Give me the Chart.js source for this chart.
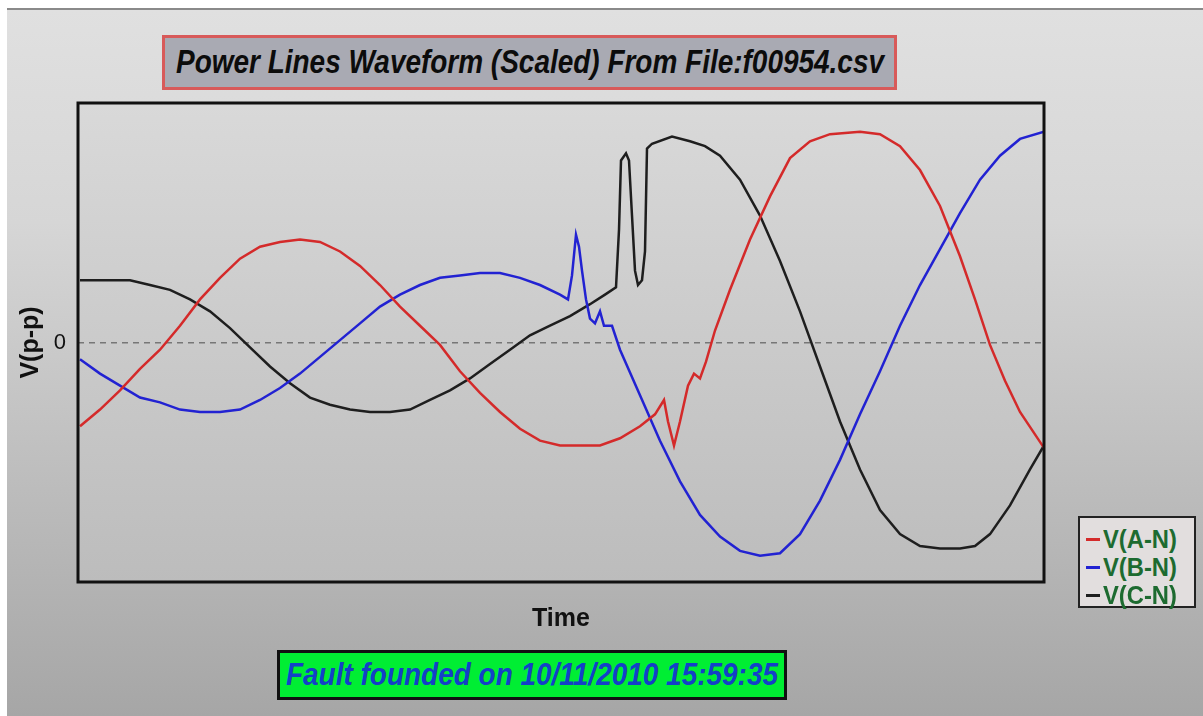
<!DOCTYPE html>
<html>
<head>
<meta charset="utf-8">
<script src="https://cdn.jsdelivr.net/npm/chart.js@4"></script>
<style>
  body { margin: 0; background: #fff; width: 1203px; height: 716px; overflow: hidden; position: relative; }
  #frame { position: absolute; left: 7px; top: 8px; width: 1196px; height: 708px;
           background: linear-gradient(#e0e0e0, #d6d6d6 30%, #a6a6a6); border-top: 2px solid #8a8a8a; box-sizing: border-box; }
  #myChart { position: absolute; left: 0; top: 0; }
  .box { position: absolute; box-sizing: border-box; font-family: "Liberation Sans", Arial, sans-serif;
         font-style: italic; font-weight: bold; white-space: nowrap; overflow: hidden; }
  .fit { position: absolute; left: 50%; top: 0; transform-origin: center center; }
  #title { left: 162px; top: 35px; width: 735px; height: 55px; border: 3px solid #d85a5a; background: #a9aab3;
           color: #0c0c0c; font-size: 33px; line-height: 48px; }
  #fault { left: 277px; top: 650px; width: 510px; height: 50px; border: 3px solid #111; background: #00ee33;
           color: #1440c8; font-size: 31px; line-height: 43px; }
  #legend { position: absolute; left: 1078px; top: 516px; width: 118px; height: 92px; border: 2px solid #222;
            background: #e2dede; box-sizing: border-box; font-family: "Liberation Sans", Arial, sans-serif;
            font-weight: bold; font-size: 25px; color: #1d6b30; padding-top: 5px; white-space: nowrap; }
  #legend div { height: 28px; line-height: 28px; padding-left: 6px; }
  #legend span.mk { display: inline-block; width: 14px; height: 3px; vertical-align: middle; margin-right: 3px; }
  #legend span.lbl { display: inline-block; transform: scaleX(0.95); transform-origin: left center; vertical-align: middle; }
</style>
</head>
<body>
<div id="frame"></div>
<canvas id="myChart" width="1203" height="716"></canvas>
<div id="title" class="box"><span class="fit" data-w="708">Power Lines Waveform (Scaled) From File:f00954.csv</span></div>
<div id="fault" class="box"><span class="fit" data-w="492">Fault founded on 10/11/2010 15:59:35</span></div>
<div id="legend"></div>
<script>
// sample index (0..966) and scaled voltage (-100..100)
const seriesNames = ['V(A-N)', 'V(B-N)', 'V(C-N)'];
const seriesColors = ['#d42a2a', '#2222d2', '#1e1e1e'];

const tA = [2, 22, 42, 62, 82, 102, 122, 142, 162, 182, 202, 222, 242, 262, 282, 302, 322, 342, 362, 382, 402, 422, 442, 462, 482, 502, 522, 542, 562, 577, 586, 590, 596, 602, 610, 616, 622, 628, 637, 652, 672, 692, 712, 732, 752, 782, 802, 822, 842, 862, 882, 897, 912, 927, 942, 966];
const vA = [-35, -28, -20, -11, -3, 7, 18, 27, 35, 40, 42, 43, 42, 38, 32, 24, 15, 7, -1, -12, -21, -29, -36, -41, -43, -43, -43, -40, -35, -30, -24, -33, -43, -33, -18, -13, -15, -8, 5, 22, 43, 61, 77, 84, 87, 88, 87, 82, 72, 57, 36, 18, -1, -16, -29, -44];

const tB = [2, 22, 42, 62, 82, 102, 122, 142, 162, 182, 202, 222, 242, 262, 282, 302, 322, 342, 362, 382, 402, 422, 442, 462, 482, 490, 494, 498, 501, 504, 508, 512, 517, 522, 526, 534, 542, 562, 582, 602, 622, 642, 662, 682, 702, 722, 742, 762, 782, 802, 822, 842, 862, 882, 902, 922, 942, 966];
const vB = [-7, -13, -18, -23, -25, -28, -29, -29, -28, -24, -19, -13, -6, 1, 8, 15, 20, 24, 27, 28, 29, 29, 27, 24, 20, 18, 28, 45, 40, 30, 18, 10, 8, 13, 7, 7, -3, -22, -41, -58, -72, -81, -87, -89, -88, -80, -66, -49, -30, -12, 7, 24, 39, 54, 68, 78, 85, 88];

const tC = [2, 22, 52, 72, 92, 112, 132, 152, 172, 192, 212, 232, 252, 272, 292, 312, 332, 352, 372, 392, 412, 432, 452, 472, 492, 512, 527, 538, 541, 543, 548, 551, 554, 557, 560, 564, 567, 569, 574, 594, 612, 627, 642, 662, 682, 702, 722, 742, 762, 782, 802, 822, 842, 862, 882, 897, 912, 932, 952, 966];
const vC = [26, 26, 26, 24, 22, 18, 13, 6, -2, -10, -17, -23, -26, -28, -29, -29, -28, -24, -20, -15, -9, -3, 3, 7, 11, 16, 20, 23, 47, 76, 79, 76, 53, 30, 24, 26, 38, 81, 83, 86, 84, 82, 78, 68, 53, 34, 13, -10, -33, -53, -70, -80, -85, -86, -86, -85, -80, -68, -53, -43];

const yTicks = [-100, 0, 100];

function points(ts, vs) {
    return ts.map((t, i) => ({ x: t, y: vs[i] }));
}

// squeeze the boxed captions to the narrow look of the original
document.querySelectorAll('.fit').forEach(el => {
    const w = el.getBoundingClientRect().width;
    el.style.transform = 'translateX(-50%) scaleX(' + (Number(el.dataset.w) / w) + ')';
});

const legendEl = document.getElementById('legend');
seriesNames.forEach((name, i) => {
    const row = document.createElement('div');
    row.innerHTML = '<span class="mk" style="background:' + seriesColors[i] + '"></span><span class="lbl">' + name + '</span>';
    legendEl.appendChild(row);
});

// plot area fill and the heavy black frame around it
const plotFrame = {
    id: 'plotFrame',
    beforeDraw(chart) {
        const { ctx, chartArea: a } = chart;
        const g = ctx.createLinearGradient(0, a.top, 0, a.bottom);
        g.addColorStop(0, '#d9d9d9');
        g.addColorStop(1, '#bcbcbc');
        ctx.save();
        ctx.fillStyle = g;
        ctx.fillRect(a.left, a.top, a.right - a.left, a.bottom - a.top);
        ctx.restore();
    },
    afterDraw(chart) {
        const { ctx, chartArea: a } = chart;
        ctx.save();
        ctx.strokeStyle = '#111';
        ctx.lineWidth = 3;
        ctx.strokeRect(a.left, a.top, a.right - a.left, a.bottom - a.top);
        ctx.restore();
    }
};

const allT = [tA, tB, tC];
const allV = [vA, vB, vC];

const config = {
    type: 'line',
    data: {
        datasets: seriesNames.map((name, i) => ({
            label: name,
            data: points(allT[i], allV[i]),
            borderColor: seriesColors[i],
            borderWidth: 2.5,
            pointRadius: 0,
            tension: 0,
            fill: false
        }))
    },
    options: {
        responsive: false,
        animation: false,
        layout: { padding: { top: 103, right: 159, left: 0, bottom: 76 } },
        plugins: {
            legend: { display: false },
            tooltip: { enabled: false }
        },
        scales: {
            x: {
                type: 'linear',
                min: 0,
                max: 966,
                grid: { display: false },
                border: { display: false },
                ticks: { display: false },
                title: {
                    display: true,
                    text: 'Time',
                    color: '#111',
                    padding: 6,
                    font: { family: 'Liberation Sans, Arial, sans-serif', size: 25, weight: 'bold' }
                },
                afterFit: s => { s.height = 58; }
            },
            y: {
                type: 'linear',
                min: -100,
                max: 100,
                afterBuildTicks: s => { s.ticks = yTicks.map(v => ({ value: v })); },
                grid: {
                    drawTicks: false,
                    color: c => (c.tick && c.tick.value === 0 ? '#777' : 'rgba(0,0,0,0)'),
                    lineWidth: 1.5
                },
                border: { display: false, dash: [6, 5] },
                ticks: {
                    padding: 12,
                    color: '#111',
                    font: { family: 'Liberation Sans, Arial, sans-serif', size: 22 },
                    callback: v => (v === 0 ? '0' : '')
                },
                title: {
                    display: true,
                    text: 'V(p-p)',
                    color: '#111',
                    padding: 16,
                    font: { family: 'Liberation Sans, Arial, sans-serif', size: 25, weight: 'bold' }
                },
                afterFit: s => { s.width = 78; }
            }
        }
    },
    plugins: [plotFrame]
};

window.myChart = new Chart(document.getElementById('myChart'), config);
</script>
</body>
</html>
